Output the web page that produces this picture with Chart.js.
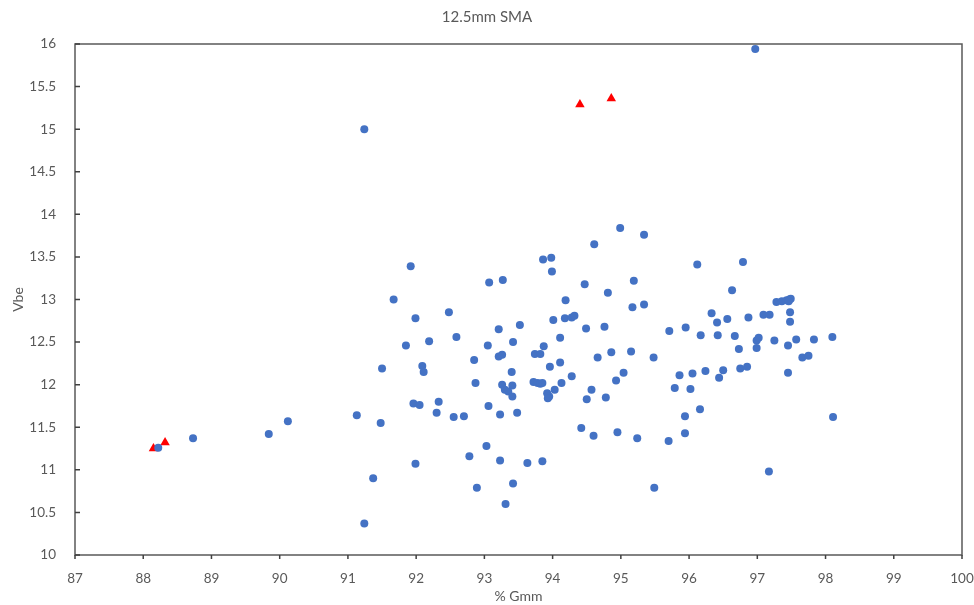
<!DOCTYPE html>
<html>
<head>
<meta charset="utf-8">
<script src="https://cdn.jsdelivr.net/npm/chart.js@4.4.1/dist/chart.umd.min.js"></script>
<style>
  html, body { margin: 0; padding: 0; background: #fff; }
  #wrap { width: 974px; height: 605px; position: relative; }
</style>
</head>
<body>
<div id="wrap"><canvas id="vbeChart"></canvas></div>
<script>
// 12.5mm SMA - Vbe vs % Gmm
const chartTitle = '12.5mm SMA';
const xTitle = '% Gmm';
const yTitle = 'Vbe';

// main series (blue dots)
const gmm = [
  94.99, 95.34, 94.61, 93.86, 93.98, 93.99, 96.12, 91.92, 93.07, 93.27,
  94.47, 95.19, 94.81, 91.67, 94.19, 95.17, 95.34, 91.99, 92.48, 94.01,
  94.18, 94.28, 94.32, 94.49, 94.76, 95.71, 95.95, 96.17, 93.21, 93.52,
  92.19, 92.59, 91.85, 93.05, 93.42, 93.87, 94.11, 94.66, 94.86, 95.15,
  95.48, 91.50, 92.09, 92.11, 92.85, 93.21, 93.26, 93.74, 93.82, 93.96,
  94.11, 94.28, 93.40, 92.87, 93.26, 93.41, 93.30, 93.35, 93.41, 93.72,
  93.78, 93.82, 93.85, 94.13, 94.03, 93.92, 93.95, 93.93, 94.57, 94.50,
  94.78, 94.93, 95.04, 95.86, 96.05, 95.79, 96.02, 91.96, 92.05, 92.33,
  92.30, 92.55, 92.70, 93.06, 93.23, 93.48, 91.48, 94.42, 94.60, 94.95,
  95.24, 95.70, 95.94, 95.94, 96.16, 93.03, 92.78, 93.23, 93.63, 93.85,
  91.99, 91.37, 92.89, 93.42, 93.31, 95.49,
  96.79, 96.63, 96.33, 96.41, 96.56, 96.87, 97.09, 97.18, 97.28, 97.36,
  97.43, 97.47, 97.49, 97.46, 97.48, 97.48, 96.42, 96.67, 96.73, 96.99,
  97.02, 96.99, 97.25, 97.45, 97.57, 97.83, 98.10, 97.66, 97.75, 97.45,
  98.11, 97.17, 96.24, 96.50, 96.44, 96.75, 96.85,
  88.22, 88.73, 89.84, 90.12, 91.13, 91.24, 91.24, 96.97
];
const vbe = [
  13.84, 13.76, 13.65, 13.47, 13.49, 13.33, 13.41, 13.39, 13.20, 13.23,
  13.18, 13.22, 13.08, 13.00, 12.99, 12.91, 12.94, 12.78, 12.85, 12.76,
  12.78, 12.79, 12.81, 12.66, 12.68, 12.63, 12.67, 12.58, 12.65, 12.70,
  12.51, 12.56, 12.46, 12.46, 12.50, 12.45, 12.55, 12.32, 12.38, 12.39,
  12.32, 12.19, 12.22, 12.15, 12.29, 12.33, 12.35, 12.36, 12.36, 12.21,
  12.26, 12.10, 12.15, 12.02, 12.00, 11.99, 11.94, 11.92, 11.86, 12.03,
  12.02, 12.01, 12.02, 12.02, 11.94, 11.90, 11.86, 11.84, 11.94, 11.83,
  11.85, 12.05, 12.14, 12.11, 12.13, 11.96, 11.95, 11.78, 11.76, 11.80,
  11.67, 11.62, 11.63, 11.75, 11.65, 11.67, 11.55, 11.49, 11.40, 11.44,
  11.37, 11.34, 11.43, 11.63, 11.71, 11.28, 11.16, 11.11, 11.08, 11.10,
  11.07, 10.90, 10.79, 10.84, 10.60, 10.79,
  13.44, 13.11, 12.84, 12.73, 12.77, 12.79, 12.82, 12.82, 12.97, 12.98,
  12.99, 13.00, 13.01, 12.98, 12.85, 12.74, 12.58, 12.57, 12.42, 12.52,
  12.55, 12.43, 12.52, 12.46, 12.53, 12.53, 12.56, 12.32, 12.34, 12.14,
  11.62, 10.98, 12.16, 12.17, 12.08, 12.19, 12.21,
  11.26, 11.37, 11.42, 11.57, 11.64, 10.37, 15.00, 15.94
];

// flagged points (red triangles)
const gmmFlag = [88.15, 88.32, 94.40, 94.86];
const vbeFlag = [11.25, 11.32, 15.29, 15.36];

const xTicks = { min: 87, max: 100, step: 1 };
const yTicks = { min: 10, max: 16, step: 0.5 };

const txt = '#595959';
const fontFam = 'Lato, "Open Sans", sans-serif';

// box round the plot area and small ticks
const frame = {
  id: 'frame',
  afterDatasetsDraw(chart) {
    const { ctx, chartArea: a, scales } = chart;
    ctx.save();
    ctx.strokeStyle = '#595959';
    ctx.lineWidth = 1.5;
    ctx.strokeRect(a.left, a.top, a.right - a.left, a.bottom - a.top);
    ctx.strokeStyle = '#404040';
    ctx.beginPath();
    scales.y.ticks.forEach(t => {
      const y = scales.y.getPixelForValue(t.value);
      ctx.moveTo(a.left, y);
      ctx.lineTo(a.left + 5, y);
    });
    scales.x.ticks.forEach(t => {
      const x = scales.x.getPixelForValue(t.value);
      ctx.moveTo(x, a.bottom);
      ctx.lineTo(x, a.bottom + 4);
    });
    ctx.stroke();
    ctx.restore();
  }
};

const pts = (xs, ys) => xs.map((x, i) => ({ x: x, y: ys[i] }));

new Chart(document.getElementById('vbeChart'), {
  type: 'scatter',
  data: {
    datasets: [
      {
        label: 'Vbe',
        data: pts(gmm, vbe),
        backgroundColor: '#4472C4',
        borderColor: '#4472C4',
        borderWidth: 0,
        pointRadius: 4,
        pointStyle: 'circle'
      },
      {
        label: 'flagged',
        data: pts(gmmFlag, vbeFlag),
        backgroundColor: '#FF0000',
        borderColor: '#FF0000',
        borderWidth: 0,
        pointRadius: 5.5,
        pointStyle: 'triangle'
      }
    ]
  },
  options: {
    responsive: true,
    maintainAspectRatio: false,
    animation: false,
    layout: { padding: { left: 0, right: 0, top: 0, bottom: 0 } },
    plugins: {
      legend: { display: false },
      tooltip: { enabled: false },
      title: {
        display: true,
        text: chartTitle,
        color: txt,
        font: { family: fontFam, size: 15, weight: 'normal' },
        padding: { top: 8, bottom: 18 }
      }
    },
    scales: {
      x: {
        type: 'linear',
        min: xTicks.min,
        max: xTicks.max,
        afterFit(s) { s.height = 50; s.paddingLeft = 0; s.paddingRight = 12; },
        ticks: {
          stepSize: xTicks.step,
          color: txt,
          font: { family: fontFam, size: 13.5 },
          padding: 8
        },
        grid: { display: false },
        border: { display: false },
        title: {
          display: true,
          text: xTitle,
          color: txt,
          font: { family: fontFam, size: 14 },
          padding: { top: 0, bottom: 0 }
        }
      },
      y: {
        type: 'linear',
        min: yTicks.min,
        max: yTicks.max,
        afterFit(s) { s.width = 75; },
        ticks: {
          stepSize: yTicks.step,
          color: txt,
          font: { family: fontFam, size: 13.5 },
          padding: 11,
          callback: v => String(Number(v.toFixed(1)))
        },
        grid: { display: false },
        border: { display: false },
        title: {
          display: true,
          text: yTitle,
          color: txt,
          font: { family: fontFam, size: 14 },
          padding: { top: 10, bottom: 0 }
        }
      }
    }
  },
  plugins: [frame]
});
</script>
</body>
</html>
